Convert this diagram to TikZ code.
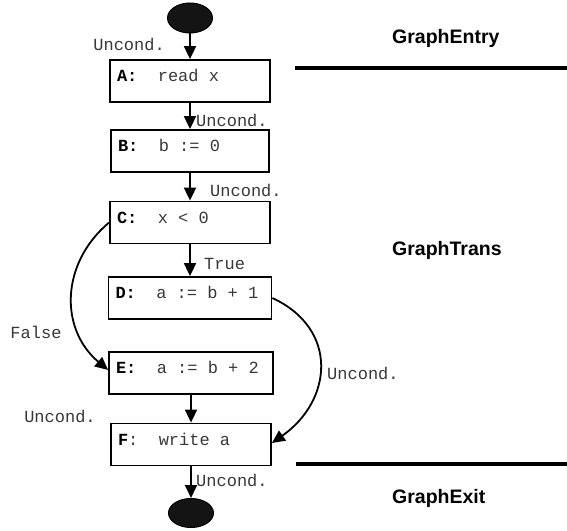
\documentclass[tikz,border=0pt]{standalone}
\usepackage{fontspec}
\setmainfont{Liberation Serif}
\setsansfont{Liberation Sans}
\setmonofont{Liberation Mono}
\usetikzlibrary{arrows.meta,shapes.geometric}
\newcommand\codefont{\ttfamily\fontsize{17}{20}\selectfont}
% one full typewriter cell of blank space
\newcommand\tsp{\hspace*{0.6em}}
\newcommand\partfont{\sffamily\bfseries\fontsize{19.5}{22}\selectfont}
\tikzset{
  x=1pt, y=1pt,
  stmt/.style={draw, line width=1.8pt, minimum height=42pt, inner xsep=7pt,
    inner ysep=0pt, align=left, text height=12pt, text depth=10pt,
    font=\codefont, text=black!78},
  terminal/.style={draw, ellipse, fill=black!92, line width=1pt,
    minimum width=45pt, minimum height=30pt, inner sep=0pt},
  flow/.style={line width=1.8pt, -{Triangle[length=13pt,width=12pt]}},
  edgelab/.style={font=\codefont, text=black!78, inner sep=0pt},
  part/.style={font=\partfont, anchor=west, inner sep=0pt},
  divider/.style={line width=3.5pt}
}
\begin{document}
\begin{tikzpicture}
\useasboundingbox (0,0) rectangle (567,530);

% control-flow graph
\node[terminal] (entry) at (190,512) {};
\node[stmt, text width=146pt] (A) at (190,449) {\textbf{\color{black}A:}\tsp\tsp read\tsp x};
\node[stmt, text width=144pt] (B) at (190,379) {\textbf{\color{black}B:}\tsp\tsp b\tsp :=\tsp 0};
\node[stmt, text width=146pt] (C) at (190,307.5) {\textbf{\color{black}C:}\tsp\tsp x\tsp <\tsp 0};
\node[stmt, text width=149pt] (D) at (190,232) {\textbf{\color{black}D:}\tsp\tsp a\tsp :=\tsp b\tsp +\tsp 1};
\node[stmt, text width=150pt] (E) at (191,157) {\textbf{\color{black}E:}\tsp\tsp a\tsp :=\tsp b\tsp +\tsp 2};
\node[stmt, text width=146pt] (F) at (191,85.5) {\textbf{\color{black}F}:\tsp\tsp write\tsp a};
\node[terminal, minimum height=29pt] (exit) at (191,17) {};

\draw[flow] (entry) -- (A);
\draw[flow] (A) -- (B);
\draw[flow] (B) -- (C);
\draw[flow] (C) -- (D);
\draw[flow] (C.west) to[out=220, in=140, looseness=1.1] ([yshift=3pt]E.west);
\draw[flow] (D.east) to[out=-25, in=35, looseness=1.3] ([yshift=1.5pt]F.east);
\draw[flow] (E) -- (F);
\draw[flow] (F) -- (exit);

% edge kinds
\node[edgelab, anchor=east] (l0) at (165,486) {Uncond.};
\node[edgelab, anchor=west] (l1) at (196,410) {Uncond.};
\node[edgelab, anchor=west] (l2) at (210,340) {Uncond.};
\node[edgelab, anchor=west] (l3) at (204,266) {True};
\node[edgelab] (l4) at (36,198) {False};
\node[edgelab, anchor=west] (l5) at (327,157) {Uncond.};
\node[edgelab] (l6) at (60,114) {Uncond.};
\node[edgelab, anchor=west] (l7) at (196,50) {Uncond.};

% graph regions
\coordinate (d1a) at (295,462);
\coordinate (d1b) at (567,462);
\coordinate (d2a) at (296,66);
\coordinate (d2b) at (567,66);
\draw[divider] (d1a) -- (d1b);
\draw[divider] (d2a) -- (d2b);
\node[part] (p1) at (392,492) {GraphEntry};
\node[part] (p2) at (392,280) {GraphTrans};
\node[part] (p3) at (392,32) {GraphExit};
\end{tikzpicture}
\end{document}
